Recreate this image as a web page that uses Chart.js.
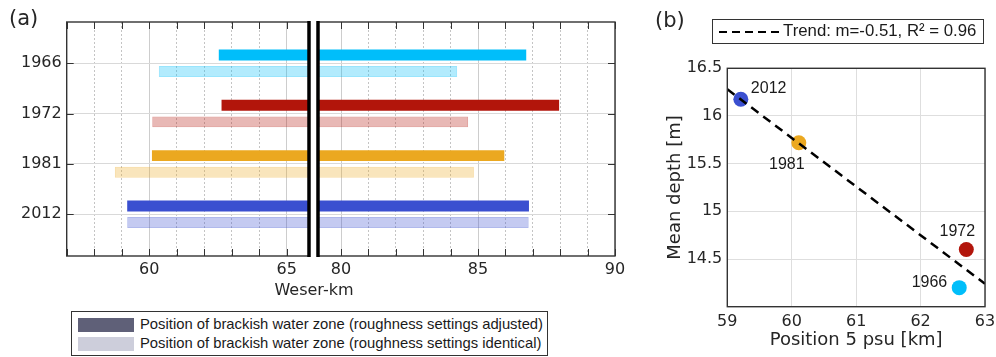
<!DOCTYPE html>
<html>
<head>
<meta charset="utf-8">
<script src="https://cdn.jsdelivr.net/npm/chart.js@4.4.1/dist/chart.umd.min.js"></script>
<style>
  body { margin: 0; background: #fff; }
  #wrap { position: relative; width: 996px; height: 357px; font-family: "DejaVu Sans"; color: #262626; }
  canvas, .txt, .box { position: absolute; }
  .txt { line-height: 1; white-space: nowrap; }
  .box { border: 1px solid #333; background: #fff; box-sizing: border-box; }
  .row { position: absolute; left: 6px; height: 14px; }
  .sw { position: absolute; left: 0; top: 0; width: 56px; height: 14px; }
  .row span { position: absolute; left: 62px; top: -2px; font-family: "Liberation Sans"; font-size: 14.8px; line-height: 17px; white-space: nowrap; color: #1a1a1a; }
  .dash { position: absolute; left: 6px; top: 11px; width: 62px; height: 2px;
          background: repeating-linear-gradient(90deg, #000 0 8px, transparent 8px 13px); }
</style>
</head>
<body>
<div id="wrap">
  <canvas id="cL" style="left:0;top:0" width="312" height="300"></canvas>
  <canvas id="cR" style="left:312px;top:0" width="318" height="300"></canvas>
  <canvas id="cB" style="left:640px;top:0" width="356" height="357"></canvas>

  <div class="txt" style="left:9px;top:8px;font-size:21px">(a)</div>
  <div class="txt" style="left:655px;top:10px;font-size:21px">(b)</div>
  <div class="txt" style="left:254px;top:282px;width:120px;text-align:center;font-size:16px">Weser-km</div>

  <div class="box" style="left:71px;top:311px;width:477px;height:45px">
    <div class="row" style="top:6px"><div class="sw" style="background:#5f6078"></div><span>Position of brackish water zone (roughness settings adjusted)</span></div>
    <div class="row" style="top:25px"><div class="sw" style="background:#cdcedb"></div><span>Position of brackish water zone (roughness settings identical)</span></div>
  </div>

  <div class="box" style="left:712px;top:19px;width:272px;height:25px">
    <div class="dash"></div>
    <div class="txt" style="left:70px;top:3px;font-family:'Liberation Sans';font-size:16.8px;color:#1a1a1a">Trend: m=-0.51, R² = 0.96</div>
  </div>
</div>

<script>
// years / categories
const years = ['1966', '1972', '1981', '2012'];

// brackish zone, roughness settings adjusted (Weser-km)
const adjStart = [62.53, 62.63, 60.10, 59.20];
const adjEnd   = [86.76, 87.96, 85.96, 86.86];

// brackish zone, roughness settings identical (Weser-km)
const idStart = [60.35, 60.11, 58.75, 59.20];
const idEnd   = [84.24, 84.64, 84.85, 86.85];

// panel b: position 5 psu [km] vs mean depth [m]
const posKm = [62.60, 62.71, 60.11, 59.21];
const depth = [14.20, 14.60, 15.72, 16.175];

// trend line end points
const trendX = [59, 63];
const trendY = [16.28, 14.24];

// colours per year
const yearRGB = ['0,190,250', '178,21,11', '235,168,32', '58,79,208'];
const solid = yearRGB.map(c => 'rgb(' + c + ')');
const light = yearRGB.map(c => 'rgba(' + c + ',0.3)');
const lightEdge = yearRGB.map(c => 'rgba(' + c + ',0.4)');

const tickFont = { family: 'DejaVu Sans', size: 16 };
const tickColor = '#262626';

// frame + inward tick marks
const frame = {
  id: 'frame',
  afterDraw(chart, args, o) {
    const { ctx, chartArea: a } = chart;
    ctx.save();
    ctx.strokeStyle = '#333';
    ctx.lineWidth = 1;
    const len = 7;
    ctx.beginPath();
    if (o.xTicks) {
      chart.scales.x.ticks.forEach(t => {
        const px = Math.round(chart.scales.x.getPixelForValue(t.value)) + 0.5;
        ctx.moveTo(px, a.bottom); ctx.lineTo(px, a.bottom - len);
        ctx.moveTo(px, a.top); ctx.lineTo(px, a.top + len);
      });
    }
    if (o.yTicks) {
      chart.scales.y.ticks.forEach(t => {
        const py = Math.round(chart.scales.y.getPixelForValue(t.value)) + 0.5;
        if (o.yTicks === 'left') { ctx.moveTo(a.left, py); ctx.lineTo(a.left + len, py); }
        else { ctx.moveTo(a.right, py); ctx.lineTo(a.right - len, py); }
      });
    }
    ctx.stroke();
    ctx.lineWidth = 1.4;
    ctx.strokeRect(a.left, a.top, a.right - a.left, a.bottom - a.top);
    if (o.thick) {
      ctx.strokeStyle = '#000';
      ctx.lineWidth = 3.5;
      const x = o.thick === 'right' ? a.right : a.left;
      ctx.beginPath();
      ctx.moveTo(x, a.top - 1); ctx.lineTo(x, a.bottom + 1);
      ctx.stroke();
    }
    ctx.restore();
  }
};

function barDatasets() {
  return [
    {
      label: 'adjusted',
      data: years.map((y, i) => ({ y: i, x: [adjStart[i], adjEnd[i]] })),
      backgroundColor: solid,
      borderColor: solid,
      borderWidth: 0
    },
    {
      label: 'identical',
      data: years.map((y, i) => ({ y: i, x: [idStart[i], idEnd[i]] })),
      backgroundColor: light,
      borderColor: lightEdge,
      borderWidth: 1,
      borderSkipped: false
    }
  ];
}

function xAxis(min, max) {
  return {
    type: 'linear', min: min, max: max,
    ticks: {
      stepSize: 1, includeBounds: false, autoSkip: false, maxRotation: 0,
      font: tickFont, color: tickColor, padding: 4,
      callback: v => (v % 5 === 0 ? String(v) : '')
    },
    grid: {
      drawTicks: false,
      color: c => (c.tick && c.tick.value % 5 === 0 ? '#cdcdcd' : '#c4c4c4')
    },
    border: {
      display: false,
      dash: c => (c.tick && c.tick.value % 5 !== 0 ? [2, 2] : [])
    },
    afterFit(s) { s.height = 44; s.paddingLeft = 0; s.paddingRight = 0; }
  };
}

function yAxis(side) {
  return {
    type: 'linear', reverse: true, min: -0.82, max: 3.83,
    offset: false,
    position: side,
    ticks: {
      stepSize: 1, includeBounds: false, display: side === 'left',
      font: tickFont, color: tickColor, padding: 5,
      callback: v => (years[v] !== undefined ? years[v] : '')
    },
    grid: { drawTicks: false, offset: false, color: '#d9d9d9' },
    border: { display: false },
    afterFit(s) { s.width = side === 'left' ? 66.7 : 0; s.paddingTop = 0; s.paddingBottom = 0; }
  };
}

const barOpts = (side, xmin, xmax, pad, frameOpts) => ({
  type: 'bar',
  data: { labels: years, datasets: barDatasets() },
  options: {
    responsive: false, animation: false, indexAxis: 'y',
    categoryPercentage: 0.66, barPercentage: 0.66,
    layout: { padding: pad },
    plugins: { legend: { display: false }, tooltip: { enabled: false }, frame: frameOpts },
    scales: { x: xAxis(xmin, xmax), y: yAxis(side) }
  },
  plugins: [frame]
});

new Chart(document.getElementById('cL'),
  barOpts('left', 57, 65.81, { top: 22, right: 3, left: 0, bottom: 0 }, { xTicks: true, yTicks: 'left', thick: 'right' }));
new Chart(document.getElementById('cR'),
  barOpts('right', 79.16, 90, { top: 22, right: 15, left: 6, bottom: 0 }, { xTicks: true, yTicks: 'right', thick: 'left' }));

// year labels beside the points of panel b
const labelOffsets = [[-12, -5, 'right'], [-9, -18, 'center'], [-12, 22, 'center'], [10, -11, 'left']];
const pointText = {
  id: 'pointText',
  afterDatasetsDraw(chart) {
    const meta = chart.getDatasetMeta(1);
    const ctx = chart.ctx;
    ctx.save();
    ctx.font = '16px "Liberation Sans"';
    ctx.fillStyle = '#1a1a1a';
    ctx.textBaseline = 'middle';
    meta.data.forEach((pt, i) => {
      const o = labelOffsets[i];
      ctx.textAlign = o[2];
      ctx.fillText(years[i], pt.x + o[0], pt.y + o[1]);
    });
    ctx.restore();
  }
};

new Chart(document.getElementById('cB'), {
  type: 'scatter',
  data: {
    datasets: [
      {
        label: 'Trend',
        data: trendX.map((x, i) => ({ x: x, y: trendY[i] })),
        showLine: true,
        borderColor: '#000',
        borderWidth: 2.5,
        borderDash: [9, 6],
        pointRadius: 0,
        order: 0
      },
      {
        label: 'Years',
        data: posKm.map((x, i) => ({ x: x, y: depth[i] })),
        backgroundColor: solid,
        borderWidth: 0,
        pointRadius: 7.5,
        order: 1
      }
    ]
  },
  options: {
    responsive: false, animation: false,
    layout: { padding: { top: 68.3, right: 11, left: 0, bottom: 0 } },
    plugins: { legend: { display: false }, tooltip: { enabled: false }, frame: {} },
    scales: {
      x: {
        type: 'linear', min: 59, max: 63,
        ticks: { stepSize: 1, font: tickFont, color: tickColor, padding: 6 },
        grid: { drawTicks: false, color: '#dedede' },
        border: { display: false },
        title: { display: true, text: 'Position 5 psu [km]', font: { family: 'DejaVu Sans', size: 18 }, color: tickColor, padding: { top: 0, bottom: 5.5 } },
        afterFit(s) { s.height = 50.3; s.paddingLeft = 0; s.paddingRight = 0; }
      },
      y: {
        type: 'linear', min: 14, max: 16.5,
        ticks: { stepSize: 0.5, font: tickFont, color: tickColor, padding: 5, callback: v => (v === 14 ? '' : String(v)) },
        grid: { drawTicks: false, color: '#dedede' },
        border: { display: false },
        title: { display: true, text: 'Mean depth [m]', font: { family: 'DejaVu Sans', size: 18 }, color: tickColor, padding: { top: 25, bottom: 0 } },
        afterFit(s) { s.width = 87.3; s.paddingTop = 0; s.paddingBottom = 0; }
      }
    }
  },
  plugins: [frame, pointText]
});
</script>
</body>
</html>
